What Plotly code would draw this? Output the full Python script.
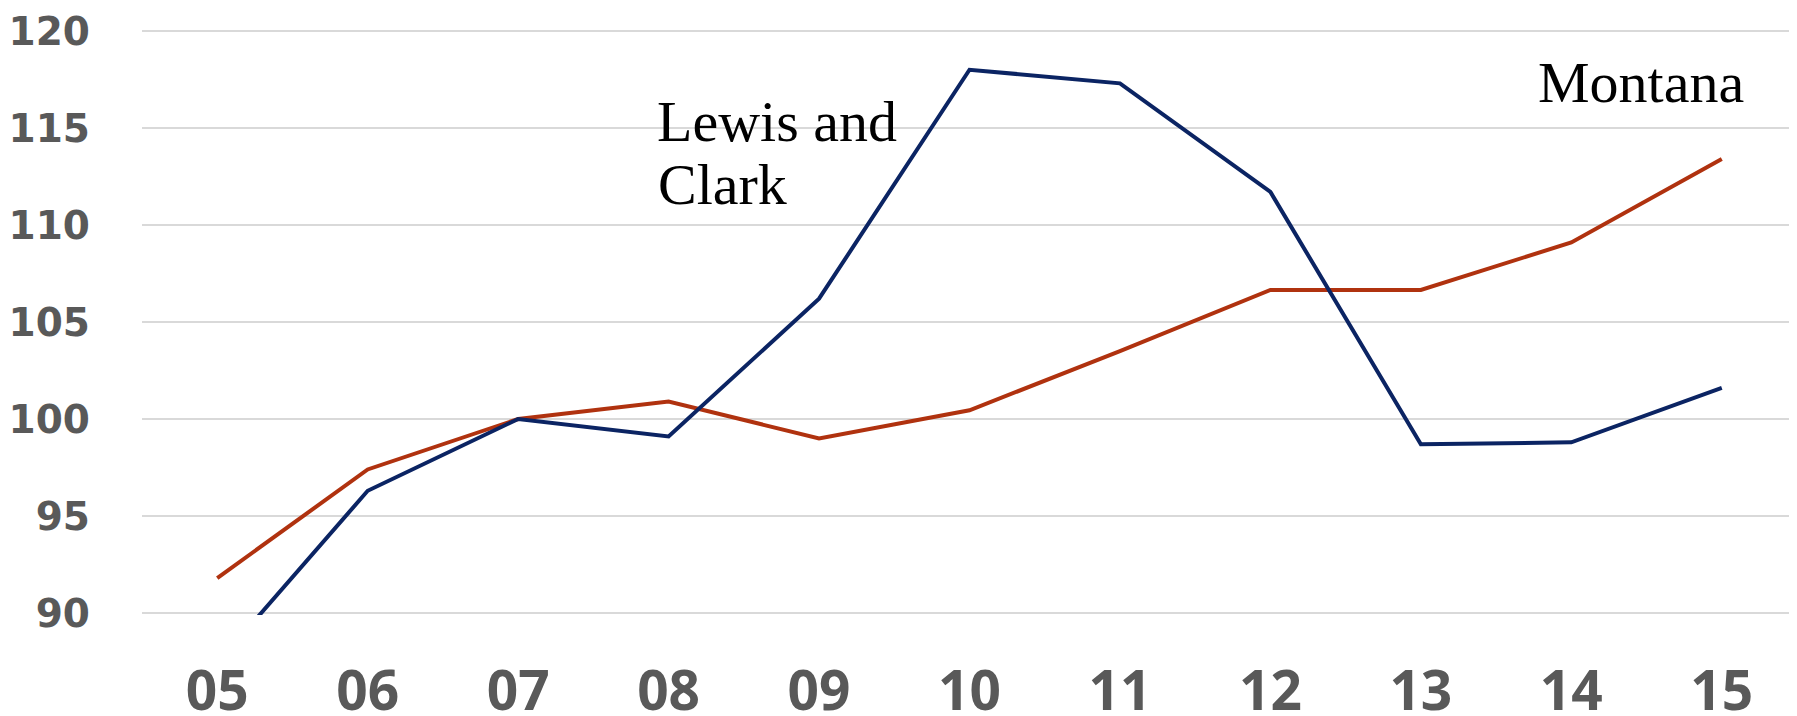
import plotly.graph_objects as go

years = ["05", "06", "07", "08", "09", "10", "11", "12", "13", "14", "15"]
lewis_clark = [87.4, 96.3, 100.0, 99.1, 106.2, 118.0, 117.3, 111.7, 98.7, 98.8, 101.6]
montana = [91.8, 97.4, 100.0, 100.9, 99.0, 100.45, 103.5, 106.65, 106.65, 109.1, 113.4]
y_ticks = [90, 95, 100, 105, 110, 115, 120]

NAVY = "#0B2463"
RUST = "#B0320F"
GRAY = "#595959"

fig = go.Figure()
fig.add_trace(go.Scatter(x=years, y=montana, mode="lines", name="Montana",
                         line=dict(color=RUST, width=4)))
fig.add_trace(go.Scatter(x=years, y=lewis_clark, mode="lines", name="Lewis and Clark",
                         line=dict(color=NAVY, width=4)))

serif = dict(family="Liberation Serif, Times New Roman, serif", size=58, color="black")
fig.add_annotation(text="Lewis and", xref="paper", yref="paper", x=0.3097, y=0.8420,
                   xanchor="left", yanchor="middle", showarrow=False, font=serif)
fig.add_annotation(text="Clark", xref="paper", yref="paper", x=0.3103, y=0.7345,
                   xanchor="left", yanchor="middle", showarrow=False, font=serif)
fig.add_annotation(text="Montana", xref="paper", yref="paper", x=0.8425, y=0.9087,
                   xanchor="left", yanchor="middle", showarrow=False, font=serif)

fig.update_layout(
    template="none",
    width=1789, height=708,
    margin=dict(l=134, r=0, t=21, b=101, pad=0),
    paper_bgcolor="white", plot_bgcolor="white",
    showlegend=False,
    xaxis=dict(type="category", categoryorder="array", categoryarray=years,
               range=[-0.5, 10.5], showgrid=False, showline=False, zeroline=False,
               ticks="", ticklabelstandoff=39, automargin=False,
               tickfont=dict(family="Open Sans", size=55, color=GRAY, weight="bold")),
    yaxis=dict(range=[89.9, 120.1], tickvals=y_ticks, showgrid=True, gridcolor="#D9D9D9",
               gridwidth=1.5, showline=False, zeroline=False, ticks="",
               ticklabelstandoff=51, automargin=False,
               tickfont=dict(family="DejaVu Sans", size=39, color=GRAY, weight="bold")),
)

fig.write_html("out.html")
